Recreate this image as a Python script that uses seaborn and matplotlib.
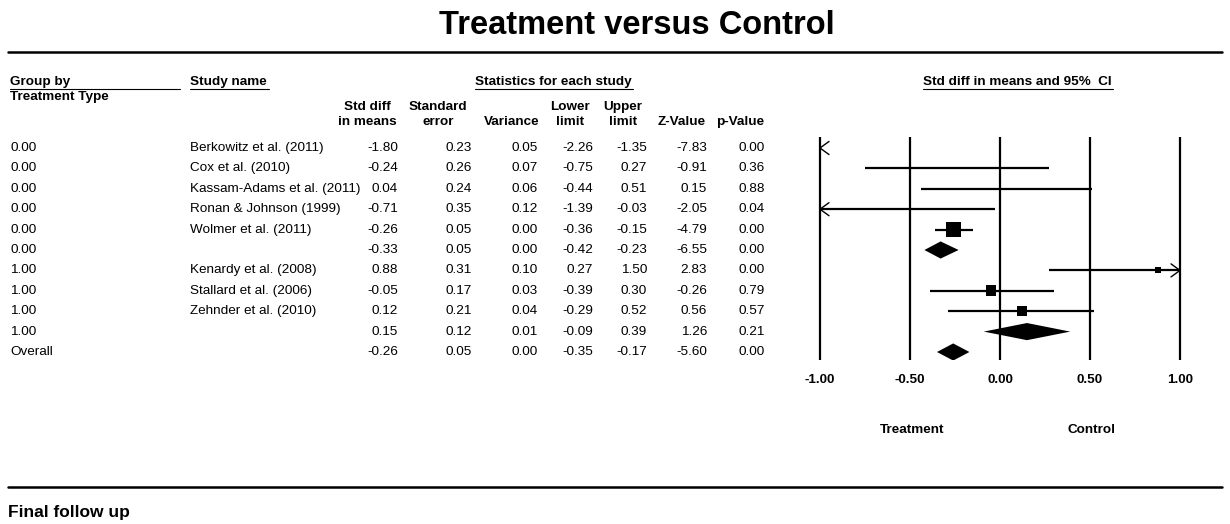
import numpy as np
import pandas as pd
import seaborn as sns
import matplotlib.pyplot as plt
import matplotlib.transforms as mtransforms
from matplotlib.patches import Polygon

# data
group = ["0.00"] * 6 + ["1.00"] * 4 + ["Overall"]
study = ["Berkowitz et al. (2011)", "Cox et al. (2010)", "Kassam-Adams et al. (2011)",
         "Ronan & Johnson (1999)", "Wolmer et al. (2011)", "",
         "Kenardy et al. (2008)", "Stallard et al. (2006)", "Zehnder et al. (2010)", "", ""]
smd = [-1.80, -0.24, 0.04, -0.71, -0.26, -0.33, 0.88, -0.05, 0.12, 0.15, -0.26]
se = [0.23, 0.26, 0.24, 0.35, 0.05, 0.05, 0.31, 0.17, 0.21, 0.12, 0.05]
variance = [0.05, 0.07, 0.06, 0.12, 0.00, 0.00, 0.10, 0.03, 0.04, 0.01, 0.00]
lower = [-2.26, -0.75, -0.44, -1.39, -0.36, -0.42, 0.27, -0.39, -0.29, -0.09, -0.35]
upper = [-1.35, 0.27, 0.51, -0.03, -0.15, -0.23, 1.50, 0.30, 0.52, 0.39, -0.17]
zval = [-7.83, -0.91, 0.15, -2.05, -4.79, -6.55, 2.83, -0.26, 0.56, 1.26, -5.60]
pval = [0.00, 0.36, 0.88, 0.04, 0.00, 0.00, 0.00, 0.79, 0.57, 0.21, 0.00]
summary = [False] * 5 + [True] + [False] * 3 + [True, True]
# relative box weights (estimated from square areas)
weight = [1, 1, 1, 1, 56, 0, 9, 30, 25, 0, 0]
xticks = [-1.0, -0.5, 0.0, 0.5, 1.0]

df = pd.DataFrame({"group": group, "study": study, "smd": smd, "se": se, "var": variance,
                   "lower": lower, "upper": upper, "z": zval, "p": pval,
                   "summary": summary, "weight": weight})
df["row"] = np.arange(len(df))

sns.set_theme(style="white")
plt.rcParams['font.family'] = ['Liberation Sans', 'DejaVu Sans']
plt.rcParams['text.color'] = 'black'
plt.rcParams['xtick.color'] = 'black'

W, H = 1230, 524
fig = plt.figure(figsize=(W / 100, H / 100), dpi=100)
fig.patch.set_facecolor("white")

def fx(x):
    return x / W

def fy(y):
    return 1 - y / H

FS = 9.7

# forest plot axes
ax = fig.add_axes([fx(800), fy(360), 400 / W, 223 / H])
ax.set_xlim(-1 - 20 / 180, 1 + 20 / 180)
ax.set_ylim(10 + 8 / 20.4, -11 / 20.4)
for s in ax.spines.values():
    s.set_visible(False)
for xv in xticks:
    ax.axvline(xv, color="black", lw=1.6)

lo_lim, hi_lim = -1.0, 1.0
adx, ady = 0.05, 0.32
for _, r in df.iterrows():
    y = r["row"]
    if r["summary"]:
        h = 0.42
        ax.add_patch(Polygon([(r["lower"], y), (r["smd"], y - h), (r["upper"], y), (r["smd"], y + h)],
                             closed=True, color="black", lw=0))
        continue
    a = max(r["lower"], lo_lim)
    b = min(r["upper"], hi_lim)
    if b > a:
        ax.plot([a, b], [y, y], color="black", lw=1.6, solid_capstyle="butt")
    if r["lower"] < lo_lim:
        ax.plot([lo_lim + adx, lo_lim, lo_lim + adx], [y - ady, y, y + ady], color="black", lw=1.0)
    if r["upper"] > hi_lim:
        ax.plot([hi_lim - adx, hi_lim, hi_lim - adx], [y - ady, y, y + ady], color="black", lw=1.0)

studies = df[~df["summary"]]
sns.scatterplot(data=studies, x="smd", y="row", size="weight", sizes=(0, 117), size_norm=(0, 56),
                marker="s", color="black", linewidth=0, legend=False, ax=ax)
ax.set_xlabel("")
ax.set_ylabel("")
ax.set_yticks([])
ax.set_xticks(xticks)
ax.set_xticklabels([f"{v:.2f}" for v in xticks], fontsize=FS, fontweight="bold")
ax.tick_params(axis="x", length=0, pad=10)
ax.grid(False)

# table text, rows aligned with forest plot rows
tr = mtransforms.blended_transform_factory(fig.transFigure, ax.transData)
col_right = {"smd": 398, "se": 472, "var": 538, "lower": 593, "upper": 647, "z": 707, "p": 765}
for _, r in df.iterrows():
    y = r["row"]
    fig.text(fx(10), y, r["group"], transform=tr, ha="left", va="center", fontsize=FS)
    fig.text(fx(190), y, r["study"], transform=tr, ha="left", va="center", fontsize=FS)
    for c, xr in col_right.items():
        fig.text(fx(xr), y, f"{r[c]:.2f}", transform=tr, ha="right", va="center", fontsize=FS)

# headers
bold = dict(fontsize=FS, fontweight="bold", va="center")
fig.text(fx(10), fy(82), "Group by", ha="left", **bold)
fig.text(fx(10), fy(97), "Treatment Type", ha="left", **bold)
underlined = [fig.text(fx(190), fy(82), "Study name", ha="left", **bold),
              fig.text(fx(553), fy(82), "Statistics for each study", ha="center", **bold),
              fig.text(fx(1017), fy(82), "Std diff in means and 95%  CI", ha="center", **bold)]
for xc, l1, l2 in [(367, "Std diff", "in means"), (438, "Standard", "error"), (512, "", "Variance"),
                   (570, "Lower", "limit"), (623, "Upper", "limit"), (682, "", "Z-Value"),
                   (740, "", "p-Value")]:
    fig.text(fx(xc), fy(107), l1, ha="center", **bold)
    fig.text(fx(xc), fy(122), l2, ha="center", **bold)

fig.canvas.draw()
renderer = fig.canvas.get_renderer()
spans = [(10, 180)]
for t in underlined:
    bb = t.get_window_extent(renderer)
    spans.append((bb.x0, bb.x1 + 2))
for x0, x1 in spans:
    fig.add_artist(plt.Line2D([fx(x0), fx(x1)], [fy(89), fy(89)], color="black", lw=0.8,
                              transform=fig.transFigure))

# title, rules and footer
fig.text(fx(637), fy(25), "Treatment versus Control", ha="center", va="center",
         fontsize=23.5, fontweight="bold")
for yy in [52, 487]:
    fig.add_artist(plt.Line2D([fx(8), fx(1222)], [fy(yy), fy(yy)], color="black", lw=1.8,
                              transform=fig.transFigure))
fig.text(fx(912), fy(430), "Treatment", ha="center", **bold)
fig.text(fx(1091), fy(430), "Control", ha="center", **bold)
fig.text(fx(8), fy(512), "Final follow up", ha="left", va="center", fontsize=12.5, fontweight="bold")

fig.savefig("out.png", dpi=100, facecolor="white")
